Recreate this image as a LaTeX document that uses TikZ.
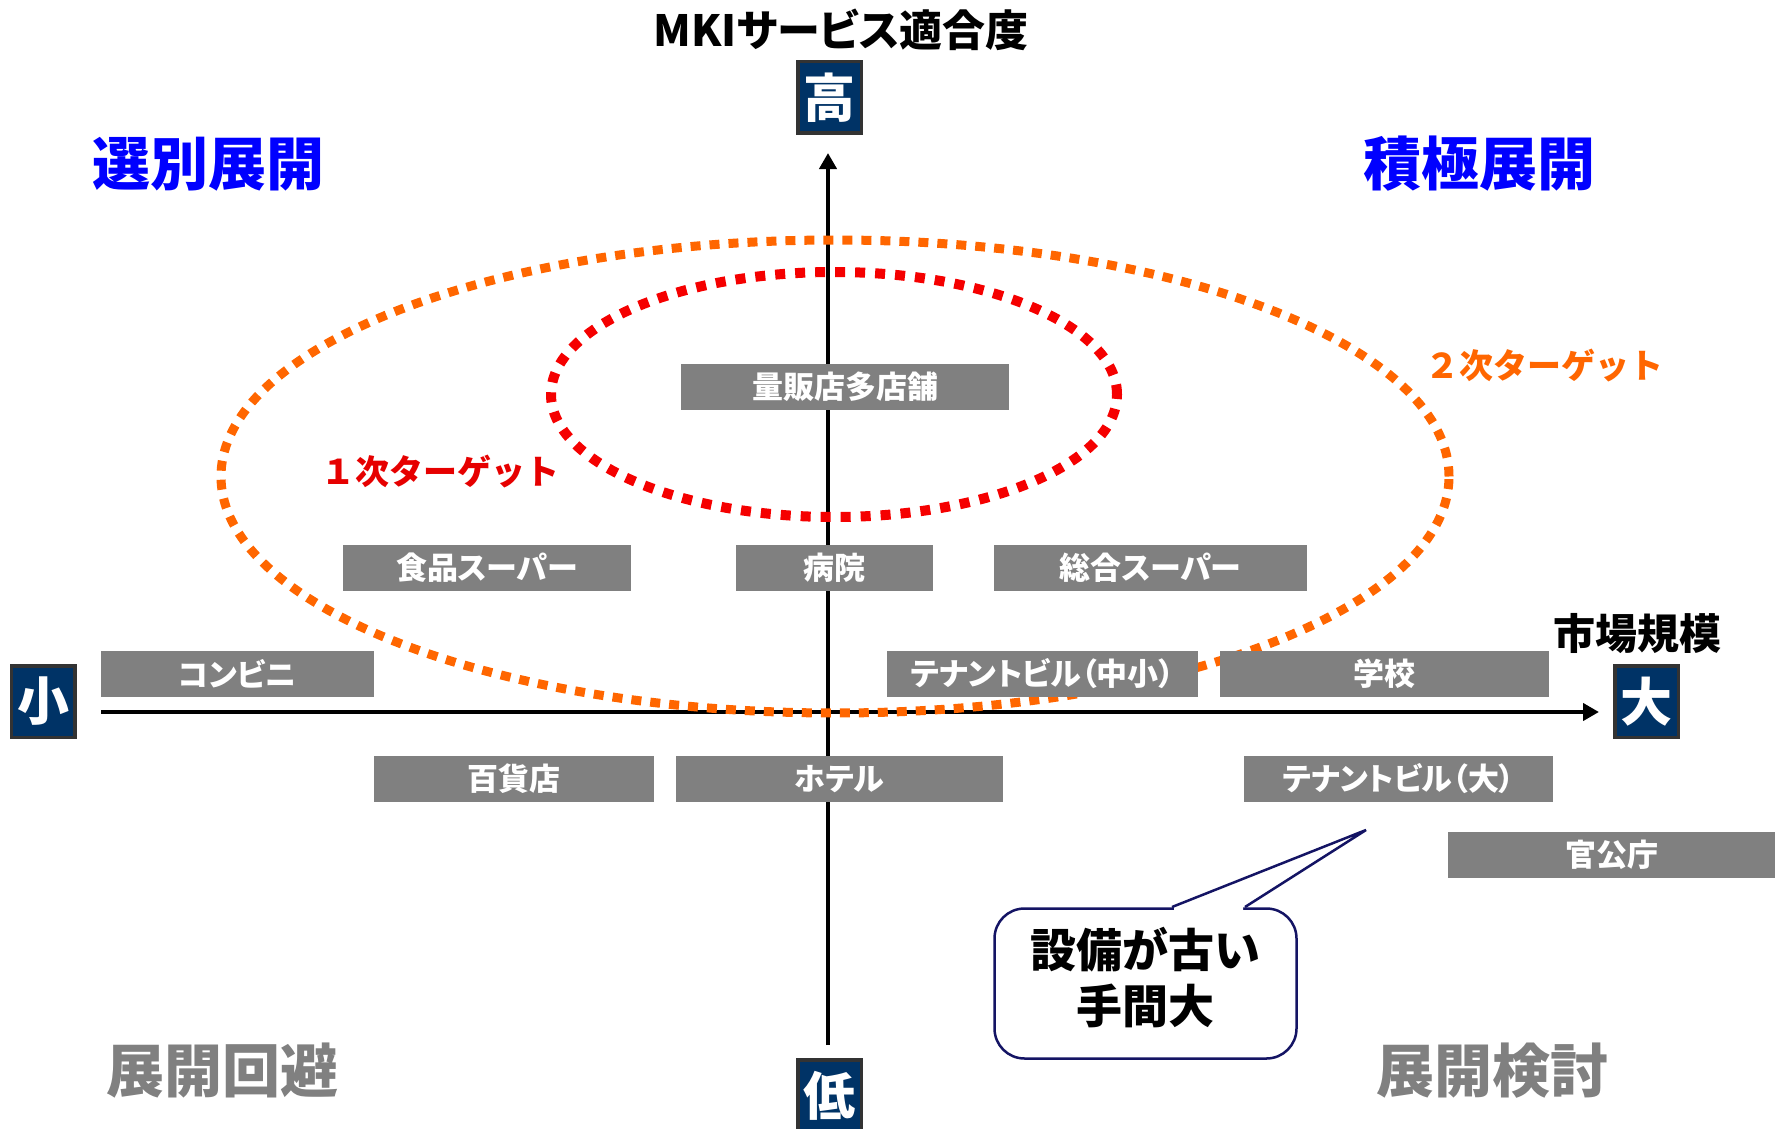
\documentclass[tikz,border=0pt]{standalone}
\usepackage{fontspec}
\newfontfamily\jp{Noto Sans CJK JP}
\newfontfamily\jpp[RawFeature=+palt]{Noto Sans CJK JP}
\usetikzlibrary{arrows.meta}
\definecolor{navy}{RGB}{0,51,102}
\definecolor{bord}{RGB}{51,51,51}
\definecolor{boxgray}{RGB}{128,128,128}
\definecolor{tblue}{RGB}{0,0,255}
\definecolor{tred}{RGB}{230,0,0}
\definecolor{ringred}{RGB}{245,0,0}
\definecolor{torange}{RGB}{255,102,0}
\definecolor{cnavy}{RGB}{20,20,100}
\begin{document}
\begin{tikzpicture}[x=1pt,y=-1pt,
  gbox/.style={fill=boxgray, text=white, inner sep=0pt, minimum height=46pt,
    font=\jpp\bfseries\fontsize{31}{31}\selectfont},
  lbox/.style={fill=navy, draw=bord, line width=3.5pt, text=white, inner sep=0pt,
    minimum width=63.5pt, minimum height=71.5pt, font=\jp\bfseries\fontsize{52}{52}\selectfont},
  axisline/.style={line width=4pt, black},
  axisarrow/.style={axisline, -{Triangle[length=16pt,width=17pt]}},
  quad/.style={inner sep=0pt, font=\jp\bfseries\fontsize{58}{58}\selectfont},
  tgt/.style={inner sep=0pt, font=\jp\bfseries\fontsize{34}{34}\selectfont},
  dotring/.style={line width=9pt, dash pattern=on 10pt off 9pt},
  ttl/.style={inner sep=0pt, font=\jpp\bfseries\fontsize{43}{43}\selectfont},
  callbox/.style={draw=cnavy, line width=2.5pt, fill=white, rounded corners=30pt,
    inner sep=0pt, minimum width=302pt, minimum height=150pt},
  calltext/.style={align=center, inner sep=0pt, font=\jp\bfseries\fontsize{46}{56}\selectfont}
]
\useasboundingbox (0,0) rectangle (1775,1129);

% axes
\coordinate (vb) at (828,1045);
\coordinate (vt) at (828,153);
\coordinate (hl) at (101,712);
\coordinate (hr) at (1599,712);
\draw[axisarrow] (vb) -- (vt);
\draw[axisarrow] (hl) -- (hr);

% target rings
\draw[dotring, torange] (835,476.5) ellipse [x radius=614pt, y radius=236.5pt];
\draw[dotring, ringred, line width=10pt, dash pattern=on 10pt off 10pt] (834,394.5) ellipse [x radius=283pt, y radius=122.5pt];

% axis end boxes
\node[lbox] (hi) at (829.5,97.5) {高};
\node[lbox] (lo) at (829.5,1095.5) {低};
\node[lbox] (sm) at (43,701.5) {小};
\node[lbox] (lg) at (1646.5,701.5) {大};

% axis titles
\node[ttl] (ytitle) at (841,30) {MKIサービス適合度};
\node[ttl, font=\jp\bfseries\fontsize{42}{42}\selectfont] (xtitle) at (1637,634) {市場規模};

% quadrant labels
\node[quad, text=tblue] (q1) at (208,164) {選別展開};
\node[quad, text=tblue] (q2) at (1479,164) {積極展開};
\node[quad, text=boxgray] (q3) at (222,1071) {展開回避};
\node[quad, text=boxgray] (q4) at (1492,1071) {展開検討};

% target labels
\node[tgt, text=tred] (t1) at (440,472) {１次ターゲット};
\node[tgt, text=torange] (t2) at (1544,366) {２次ターゲット};

% segment boxes
\node[gbox, minimum width=273pt] (cvs) at (237.5,674) {コンビニ};
\node[gbox, minimum width=328pt] (ryo) at (845,387) {量販店多店舗};
\node[gbox, minimum width=197pt] (byo) at (834.5,568) {病院};
\node[gbox, minimum width=288pt] (shk) at (487,568) {食品スーパー};
\node[gbox, minimum width=313pt] (sog) at (1150.5,568) {総合スーパー};
\node[gbox, minimum width=311pt] (tns) at (1042.5,674) {テナントビル（中小）};
\node[gbox, minimum width=329pt] (gak) at (1384.5,674) {学校};
\node[gbox, minimum width=280pt] (hyk) at (514,779) {百貨店};
\node[gbox, minimum width=327pt] (htl) at (839.5,779) {ホテル};
\node[gbox, minimum width=309pt] (tnl) at (1398.5,779) {テナントビル（大）};
\node[gbox, minimum width=327pt] (kan) at (1611.5,855) {官公庁};

% callout
\node[callbox] (cb) at (1145.5,983.5) {};
\coordinate (pa) at (1172,907);
\coordinate (pb) at (1245,907);
\coordinate (ptip) at (1366,830);
\fill[white] (1174,904) -- (ptip) -- (1243,904) -- (1243,910) -- (1174,910) -- cycle;
\draw[cnavy, line width=2.5pt, line join=miter] (pa) -- (ptip) -- (pb);
\node[calltext] (ct) at (1145,978) {設備が古い\\手間大};
\end{tikzpicture}
\end{document}
